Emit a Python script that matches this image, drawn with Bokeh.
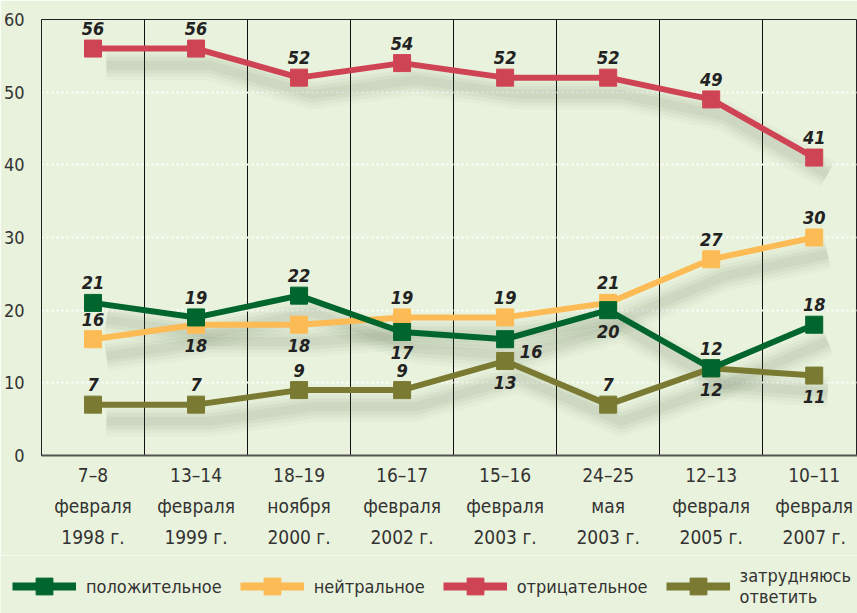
from bokeh.plotting import figure
from bokeh.models import FixedTicker, LinearAxis, Legend, LegendItem, ColumnDataSource
from bokeh.core.properties import value
from bokeh.embed import file_html
from bokeh.resources import INLINE

# ---- data ----
date_line1 = ["7–8", "13–14", "18–19", "16–17", "15–16", "24–25", "12–13", "10–11"]
date_line2 = ["февраля", "февраля", "ноября", "февраля", "февраля", "мая", "февраля", "февраля"]
date_line3 = ["1998 г.", "1999 г.", "2000 г.", "2002 г.", "2003 г.", "2003 г.", "2005 г.", "2007 г."]

positive = [21, 19, 22, 17, 16, 20, 12, 18]
neutral = [16, 18, 18, 19, 19, 21, 27, 30]
negative = [56, 56, 52, 54, 52, 52, 49, 41]
undecided = [7, 7, 9, 9, 13, 7, 12, 11]

names = ["положительное", "нейтральное", "отрицательное", "затрудняюсь\nответить"]
y_ticks = [0, 10, 20, 30, 40, 50, 60]

# label placement: a = above, b = below, r = right/below
place_positive = ["a", "a", "a", "b", "r", "b", "a", "a"]
place_neutral = ["a", "b", "b", "a", "a", "a", "a", "a"]
place_negative = ["a", "a", "a", "a", "a", "a", "a", "a"]
place_undecided = ["a", "a", "a", "a", "b", "a", "b", "b"]

# ---- style ----
BG = "#e9f2dc"
C_POS = "#00662e"
C_NEU = "#fdbb55"
C_NEG = "#cf4455"
C_UND = "#7b7a33"
FONT = "DejaVu Sans Condensed"

xs = list(range(len(date_line1)))

p = figure(frame_width=816, frame_height=436, output_backend="svg", toolbar_location=None,
           x_range=(-0.5, 7.42), y_range=(0, 60),
           min_border_left=41, min_border_top=19, min_border_right=0, min_border_bottom=100)
p.background_fill_color = BG
p.border_fill_color = BG
p.outline_line_color = "#222222"
p.outline_line_width = 1

# grids
p.xgrid.ticker = FixedTicker(ticks=[i + 0.5 for i in xs[:-1]])
p.xgrid.grid_line_color = "#111111"
p.xgrid.grid_line_width = 1
p.ygrid.ticker = FixedTicker(ticks=[t for t in y_ticks if 0 < t < 60])
p.ygrid.grid_line_color = "white"
p.ygrid.grid_line_width = 2
p.ygrid.grid_line_dash = "2 3"

# y axis
p.yaxis.ticker = FixedTicker(ticks=y_ticks)
p.yaxis.axis_line_color = "#222222"
p.yaxis.axis_line_width = 1
p.yaxis.major_tick_line_color = None
p.yaxis.minor_tick_line_color = None
p.yaxis.major_label_standoff = 11
p.yaxis.major_label_text_font = FONT
p.yaxis.major_label_text_font_size = "18px"
p.yaxis.major_label_text_color = "#333333"

# x axes (three stacked for the three text lines)
def style_xaxis(ax, labels, standoff, show_line):
    ax.ticker = FixedTicker(ticks=xs)
    ax.major_label_overrides = {i: labels[i] for i in xs}
    ax.major_tick_line_color = None
    ax.minor_tick_line_color = None
    ax.major_label_standoff = standoff
    ax.major_label_text_font = FONT
    ax.major_label_text_font_size = "19px"
    ax.major_label_text_color = "#333333"
    if show_line:
        ax.axis_line_color = "#555555"
        ax.axis_line_width = 2
    else:
        ax.axis_line_color = None

style_xaxis(p.xaxis[0], date_line1, 2, True)
ax2 = LinearAxis()
style_xaxis(ax2, date_line2, 0, False)
p.add_layout(ax2, "below")
ax3 = LinearAxis()
style_xaxis(ax3, date_line3, 0, False)
p.add_layout(ax3, "below")

series = [
    (undecided, C_UND, place_undecided, names[3]),
    (neutral, C_NEU, place_neutral, names[1]),
    (negative, C_NEG, place_negative, names[2]),
    (positive, C_POS, place_positive, names[0]),
]

# soft drop shadows
for vals, color, _, _ in series:
    sx = [x + 0.13 for x in xs]
    sy = [v - 2.3 for v in vals]
    for w, a in [(30, 0.03), (23, 0.04), (16, 0.05), (9, 0.06)]:
        p.line(sx, sy, line_color="#4d5a40", line_width=w, line_alpha=a, line_join="round", line_cap="butt")

for vals, color, place, name in series:
    src = ColumnDataSource(dict(x=xs, y=vals))
    p.line("x", "y", source=src, line_color=color, line_width=6)
    p.scatter("x", "y", source=src, marker="square", size=17, fill_color=color, line_color=color)
    xo = []
    yo = []
    for pl in place:
        if pl == "a":
            xo.append(0); yo.append(-20)
        elif pl == "b":
            xo.append(0); yo.append(21)
        else:
            xo.append(26); yo.append(12)
    lsrc = ColumnDataSource(dict(x=xs, y=vals, t=[str(v) for v in vals], xo=xo, yo=yo))
    p.text("x", "y", text="t", source=lsrc, x_offset="xo", y_offset="yo",
           text_align="center", text_baseline="middle", text_color="#222222",
           text_font=value(FONT), text_font_style="bold italic", text_font_size="18px")

# ---- legend strip: a second root under the chart; its series sit outside its view ----
leg = figure(width=857, height=58, output_backend="svg", toolbar_location=None,
             x_axis_location=None, y_axis_location=None,
             x_range=(-0.5, 7.42), y_range=(100, 200),
             min_border_left=0, min_border_right=0, min_border_top=0, min_border_bottom=0)
leg.background_fill_color = BG
leg.border_fill_color = BG
leg.outline_line_color = None
leg.grid.visible = False

leg_series = {names[0]: (positive, C_POS), names[1]: (neutral, C_NEU),
              names[2]: (negative, C_NEG), names[3]: (undecided, C_UND)}
leg_items = []
for n in names:
    vals, c = leg_series[n]
    lsrc = ColumnDataSource(dict(x=xs, y=vals))
    lr = leg.line("x", "y", source=lsrc, line_color=c, line_width=8)
    sr = leg.scatter("x", "y", source=lsrc, marker="square", size=17, fill_color=c, line_color=c)
    leg_items.append(LegendItem(label=n, renderers=[lr, sr]))

legend = Legend(items=leg_items, orientation="horizontal", glyph_width=64, glyph_height=42,
                label_text_font=FONT, label_text_font_size="18px", label_text_color="#333333",
                label_standoff=10, spacing=18, padding=0, margin=0,
                background_fill_alpha=0, border_line_color=None, location=(12, 6))
leg.add_layout(legend)

html = file_html([p, leg], INLINE)
html = html.replace("<body", '<body style="background-color:#e9f2dc"', 1)
open("out.html", "w").write(html)
